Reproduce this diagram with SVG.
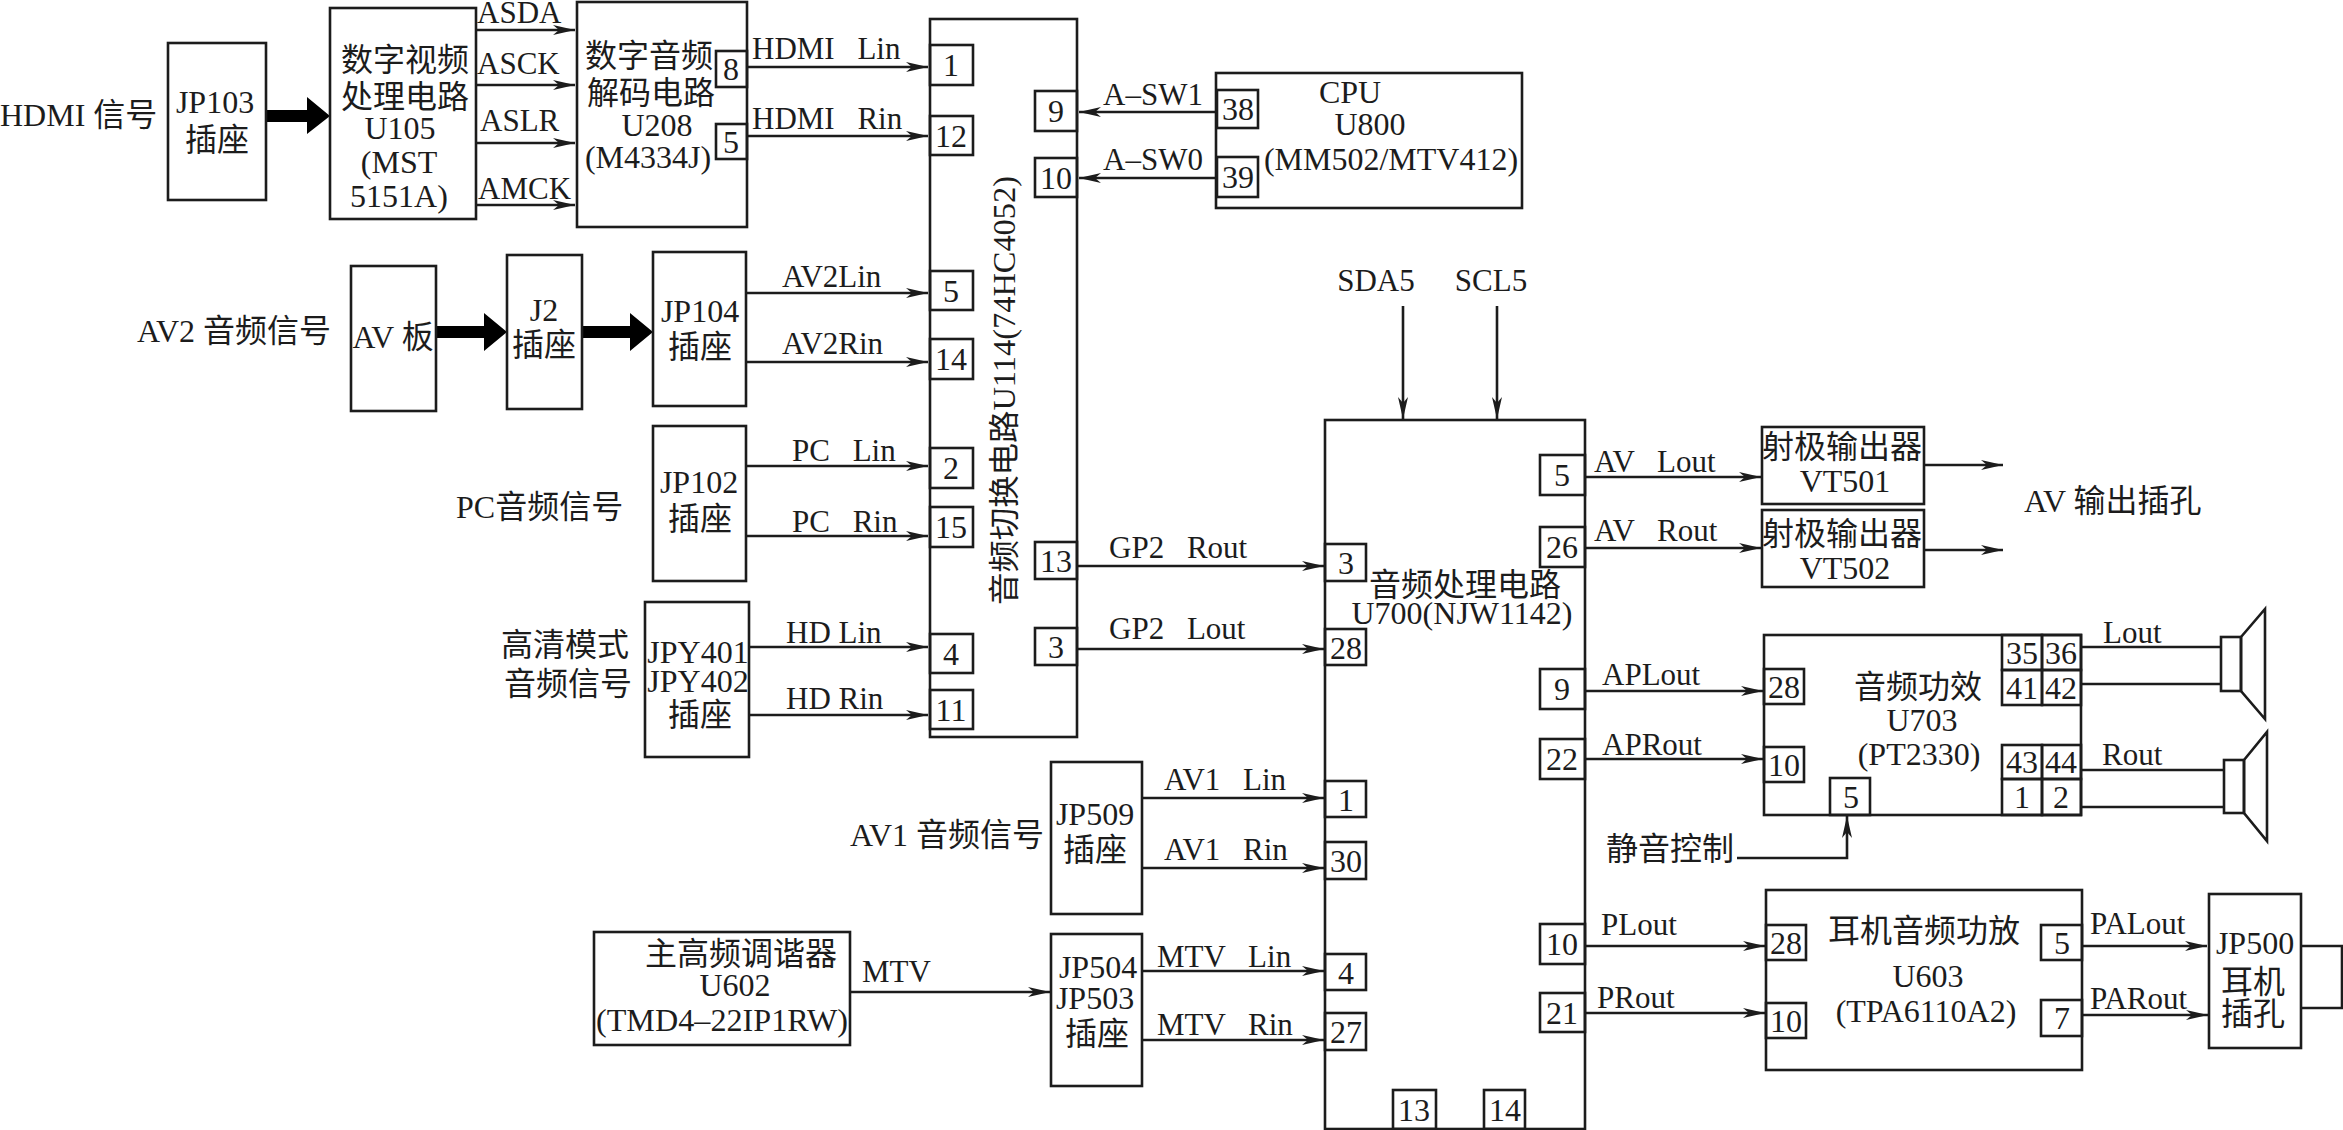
<svg xmlns="http://www.w3.org/2000/svg" width="2343" height="1130" viewBox="0 0 2343 1130">
<style>
rect,polygon.o,path.o{fill:none;stroke:#1c1c1c;stroke-width:2.6}
#connectors line,#connectors polyline,#connectors path{fill:none;stroke:#1c1c1c;stroke-width:2.6}
text{font-family:"Liberation Serif","Noto Sans CJK SC",serif;font-size:32px;fill:#1c1c1c}
#labels text{font-size:31px}
.m{text-anchor:middle}
.s{word-spacing:15px}
</style>
<defs>
<marker id="a" markerUnits="userSpaceOnUse" markerWidth="24" markerHeight="12" refX="22" refY="6" orient="auto"><path d="M0 1 L22 6 L0 11 L6 6 Z" fill="#1c1c1c"/></marker>
</defs>
<rect width="2343" height="1130" style="fill:#fff;stroke:none"/>

<g id="connectors">
<path d="M266 110H307V97L330 116L307 134V122H266Z" style="fill:#000;stroke:none"/>
<path d="M436 326H484V313L507 332L484 351V338H436Z" style="fill:#000;stroke:none"/>
<path d="M582 326H630V313L653 332L630 351V338H582Z" style="fill:#000;stroke:none"/>
<g marker-end="url(#a)">
<line x1="476" y1="30" x2="575" y2="30"/><line x1="476" y1="85" x2="575" y2="85"/><line x1="476" y1="143" x2="575" y2="143"/><line x1="476" y1="205" x2="575" y2="205"/>
<line x1="747" y1="67" x2="928" y2="67"/><line x1="747" y1="136" x2="928" y2="136"/>
<line x1="746" y1="293" x2="928" y2="293"/><line x1="746" y1="362" x2="928" y2="362"/>
<line x1="746" y1="466" x2="928" y2="466"/><line x1="746" y1="536" x2="928" y2="536"/>
<line x1="749" y1="647" x2="928" y2="647"/><line x1="749" y1="715" x2="928" y2="715"/>
<line x1="1217" y1="112" x2="1079" y2="112"/><line x1="1217" y1="178" x2="1079" y2="178"/>
<line x1="1077" y1="566" x2="1324" y2="566"/><line x1="1077" y1="649" x2="1324" y2="649"/>
<line x1="1142" y1="798" x2="1324" y2="798"/><line x1="1142" y1="868" x2="1324" y2="868"/>
<line x1="1142" y1="971" x2="1324" y2="971"/><line x1="1142" y1="1040" x2="1324" y2="1040"/>
<line x1="850" y1="992" x2="1050" y2="992"/>
<line x1="1403" y1="306" x2="1403" y2="419"/><line x1="1497" y1="306" x2="1497" y2="419"/>
<line x1="1585" y1="477" x2="1761" y2="477"/><line x1="1585" y1="548" x2="1761" y2="548"/>
<line x1="1924" y1="465" x2="2003" y2="465"/><line x1="1924" y1="550" x2="2003" y2="550"/>
<line x1="1585" y1="691" x2="1763" y2="691"/><line x1="1585" y1="759" x2="1763" y2="759"/>
<line x1="1585" y1="946" x2="1765" y2="946"/><line x1="1585" y1="1013" x2="1765" y2="1013"/>
<line x1="2082" y1="946" x2="2207" y2="946"/><line x1="2082" y1="1015" x2="2208" y2="1015"/>
<polyline points="1737,858 1847,858 1847,816"/>
</g>
<line x1="2081" y1="647" x2="2221" y2="647"/><line x1="2081" y1="684" x2="2221" y2="684"/>
<line x1="2081" y1="770" x2="2224" y2="770"/><line x1="2081" y1="807" x2="2224" y2="807"/>
<polyline points="2301,946 2342,946 2342,1008 2301,1008"/>
</g>

<g id="labels">
<text x="477" y="23">ASDA</text><text x="477" y="74">ASCK</text><text x="480" y="131">ASLR</text><text x="478" y="199">AMCK</text>
<text x="752" y="59" class="s">HDMI Lin</text><text x="752" y="129" class="s">HDMI Rin</text>
<text x="782" y="287">AV2Lin</text><text x="782" y="354">AV2Rin</text>
<text x="792" y="461" class="s">PC Lin</text><text x="792" y="532" class="s">PC Rin</text>
<text x="786" y="643">HD Lin</text><text x="786" y="709">HD Rin</text>
<text x="1103" y="105">A–SW1</text><text x="1103" y="170">A–SW0</text>
<text x="1109" y="558" class="s">GP2 Rout</text><text x="1109" y="639" class="s">GP2 Lout</text>
<text x="1164" y="790" class="s">AV1 Lin</text><text x="1164" y="860" class="s">AV1 Rin</text>
<text x="1157" y="967" class="s">MTV Lin</text><text x="1157" y="1035" class="s">MTV Rin</text>
<text x="862" y="982">MTV</text>
<text x="1376" y="291" class="m">SDA5</text><text x="1491" y="291" class="m">SCL5</text>
<text x="1594" y="472" class="s">AV Lout</text><text x="1594" y="541" class="s">AV Rout</text>
<text x="1602" y="685">APLout</text><text x="1602" y="755">APRout</text>
<text x="1601" y="935">PLout</text><text x="1597" y="1008">PRout</text>
<text x="2090" y="934">PALout</text><text x="2090" y="1009">PARout</text>
<text x="2103" y="643">Lout</text><text x="2102" y="765">Rout</text>
</g>
<g id="signal-labels">
<text x="0" y="126">HDMI 信号</text>
<text x="137" y="342">AV2 音频信号</text>
<text x="456" y="518">PC音频信号</text>
<text x="565" y="656" class="m">高清模式</text><text x="568" y="695" class="m">音频信号</text>
<text x="850" y="846">AV1 音频信号</text>
<text x="2024" y="512">AV 输出插孔</text>
<text x="1606" y="860">静音控制</text>
</g>

<g id="jp103"><rect x="168" y="43" width="98" height="157"/><text x="215" y="113" class="m">JP103</text><text x="217" y="151" class="m">插座</text></g>

<g id="u105"><rect x="330" y="8" width="146" height="211"/>
<text x="405" y="71" class="m">数字视频</text><text x="405" y="108" class="m">处理电路</text><text x="400" y="139" class="m">U105</text><text x="399" y="173" class="m">(MST</text><text x="399" y="207" class="m">5151A)</text></g>

<g id="u208"><rect x="577" y="2" width="170" height="225"/>
<text x="649" y="67" class="m">数字音频</text><text x="651" y="104" class="m">解码电路</text><text x="657" y="136" class="m">U208</text><text x="648" y="168" class="m">(M4334J)</text>
<rect x="716" y="51" width="31" height="36"/><text x="731" y="80" class="m">8</text>
<rect x="716" y="124" width="31" height="35"/><text x="731" y="153" class="m">5</text></g>

<g id="av-board"><rect x="351" y="266" width="85" height="145"/><text x="393" y="348" class="m" textLength="81" lengthAdjust="spacingAndGlyphs">AV 板</text></g>
<g id="j2"><rect x="507" y="255" width="75" height="154"/><text x="544" y="321" class="m">J2</text><text x="544" y="356" class="m">插座</text></g>
<g id="jp104"><rect x="653" y="252" width="93" height="154"/><text x="700" y="322" class="m">JP104</text><text x="700" y="358" class="m">插座</text></g>
<g id="jp102"><rect x="653" y="426" width="93" height="155"/><text x="699" y="493" class="m">JP102</text><text x="700" y="530" class="m">插座</text></g>
<g id="jpy401"><rect x="645" y="602" width="104" height="155"/><text x="698" y="663" class="m">JPY401</text><text x="698" y="692" class="m">JPY402</text><text x="700" y="726" class="m">插座</text></g>

<g id="u114"><rect x="930" y="19" width="147" height="718"/>
<text transform="translate(1015 605) rotate(-90)" textLength="429" lengthAdjust="spacingAndGlyphs" style="font-size:31px">音频切换电路U114(74HC4052)</text>
<rect x="930" y="45" width="43" height="40"/><text x="951" y="76" class="m">1</text>
<rect x="930" y="116" width="43" height="39"/><text x="951" y="147" class="m">12</text>
<rect x="930" y="271" width="43" height="39"/><text x="951" y="302" class="m">5</text>
<rect x="930" y="339" width="43" height="40"/><text x="951" y="370" class="m">14</text>
<rect x="930" y="448" width="43" height="40"/><text x="951" y="479" class="m">2</text>
<rect x="930" y="507" width="43" height="40"/><text x="951" y="538" class="m">15</text>
<rect x="930" y="634" width="43" height="39"/><text x="951" y="665" class="m">4</text>
<rect x="930" y="690" width="43" height="39"/><text x="951" y="721" class="m">11</text>
<rect x="1035" y="91" width="42" height="40"/><text x="1056" y="122" class="m">9</text>
<rect x="1035" y="158" width="42" height="39"/><text x="1056" y="189" class="m">10</text>
<rect x="1035" y="542" width="42" height="37"/><text x="1056" y="572" class="m">13</text>
<rect x="1035" y="628" width="42" height="37"/><text x="1056" y="658" class="m">3</text></g>

<g id="cpu"><rect x="1216" y="73" width="306" height="135"/>
<text x="1350" y="103" class="m">CPU</text><text x="1370" y="135" class="m">U800</text><text x="1391" y="170" class="m">(MM502/MTV412)</text>
<rect x="1217" y="90" width="41" height="38"/><text x="1238" y="120" class="m">38</text>
<rect x="1217" y="157" width="41" height="40"/><text x="1238" y="188" class="m">39</text></g>

<g id="jp509"><rect x="1051" y="762" width="91" height="152"/><text x="1095" y="825" class="m">JP509</text><text x="1095" y="861" class="m">插座</text></g>
<g id="jp504"><rect x="1051" y="934" width="91" height="152"/><text x="1098" y="978" class="m">JP504</text><text x="1095" y="1009" class="m">JP503</text><text x="1097" y="1045" class="m">插座</text></g>
<g id="u602"><rect x="594" y="932" width="256" height="113"/><text x="741" y="965" class="m">主高频调谐器</text><text x="735" y="996" class="m">U602</text><text x="722" y="1031" class="m" textLength="252" lengthAdjust="spacingAndGlyphs">(TMD4–22IP1RW)</text></g>

<g id="u700"><rect x="1325" y="420" width="260" height="709"/>
<text x="1465" y="596" class="m">音频处理电路</text><text x="1462" y="624" class="m">U700(NJW1142)</text>
<rect x="1325" y="544" width="41" height="37"/><text x="1346" y="574" class="m">3</text>
<rect x="1325" y="629" width="41" height="36"/><text x="1346" y="659" class="m">28</text>
<rect x="1325" y="781" width="41" height="36"/><text x="1346" y="811" class="m">1</text>
<rect x="1325" y="842" width="41" height="37"/><text x="1346" y="872" class="m">30</text>
<rect x="1325" y="954" width="41" height="36"/><text x="1346" y="984" class="m">4</text>
<rect x="1325" y="1013" width="41" height="37"/><text x="1346" y="1043" class="m">27</text>
<rect x="1393" y="1090" width="43" height="39"/><text x="1414" y="1121" class="m">13</text>
<rect x="1484" y="1090" width="41" height="39"/><text x="1505" y="1121" class="m">14</text>
<rect x="1540" y="455" width="45" height="40"/><text x="1562" y="486" class="m">5</text>
<rect x="1540" y="527" width="45" height="40"/><text x="1562" y="558" class="m">26</text>
<rect x="1540" y="669" width="45" height="40"/><text x="1562" y="700" class="m">9</text>
<rect x="1540" y="739" width="45" height="40"/><text x="1562" y="770" class="m">22</text>
<rect x="1540" y="924" width="45" height="40"/><text x="1562" y="955" class="m">10</text>
<rect x="1540" y="993" width="45" height="39"/><text x="1562" y="1024" class="m">21</text></g>

<g id="vt501"><rect x="1762" y="427" width="162" height="77"/><text x="1842" y="458" class="m">射极输出器</text><text x="1845" y="492" class="m">VT501</text></g>
<g id="vt502"><rect x="1762" y="510" width="162" height="77"/><text x="1842" y="545" class="m">射极输出器</text><text x="1845" y="579" class="m">VT502</text></g>

<g id="u703"><rect x="1764" y="635" width="317" height="180"/>
<text x="1918" y="698" class="m">音频功效</text><text x="1922" y="731" class="m">U703</text><text x="1919" y="765" class="m">(PT2330)</text>
<rect x="1764" y="669" width="40" height="35"/><text x="1784" y="698" class="m">28</text>
<rect x="1764" y="747" width="40" height="35"/><text x="1784" y="776" class="m">10</text>
<rect x="1830" y="778" width="40" height="37"/><text x="1851" y="808" class="m">5</text>
<rect x="2002" y="635" width="40" height="35"/><text x="2022" y="664" class="m">35</text>
<rect x="2042" y="635" width="39" height="35"/><text x="2061" y="664" class="m">36</text>
<rect x="2002" y="670" width="40" height="35"/><text x="2022" y="699" class="m">41</text>
<rect x="2042" y="670" width="39" height="35"/><text x="2061" y="699" class="m">42</text>
<rect x="2002" y="745" width="40" height="34"/><text x="2022" y="773" class="m">43</text>
<rect x="2042" y="745" width="39" height="34"/><text x="2061" y="773" class="m">44</text>
<rect x="2002" y="779" width="40" height="36"/><text x="2022" y="808" class="m">1</text>
<rect x="2042" y="779" width="39" height="36"/><text x="2061" y="808" class="m">2</text></g>

<g id="speaker-l"><rect x="2221" y="637" width="20" height="54"/><polygon class="o" points="2241,637 2265,609 2265,719 2241,691"/></g>
<g id="speaker-r"><rect x="2224" y="760" width="20" height="53"/><polygon class="o" points="2244,760 2267,732 2267,841 2244,813"/></g>

<g id="u603"><rect x="1766" y="890" width="316" height="180"/>
<text x="1924" y="942" class="m">耳机音频功放</text><text x="1928" y="987" class="m">U603</text><text x="1926" y="1022" class="m">(TPA6110A2)</text>
<rect x="1766" y="925" width="40" height="35"/><text x="1786" y="954" class="m">28</text>
<rect x="1766" y="1003" width="40" height="35"/><text x="1786" y="1032" class="m">10</text>
<rect x="2041" y="925" width="41" height="35"/><text x="2062" y="954" class="m">5</text>
<rect x="2041" y="1000" width="41" height="36"/><text x="2062" y="1029" class="m">7</text></g>

<g id="jp500"><rect x="2209" y="894" width="92" height="154"/><text x="2255" y="954" class="m">JP500</text><text x="2253" y="993" class="m">耳机</text><text x="2253" y="1025" class="m">插孔</text></g>
</svg>
